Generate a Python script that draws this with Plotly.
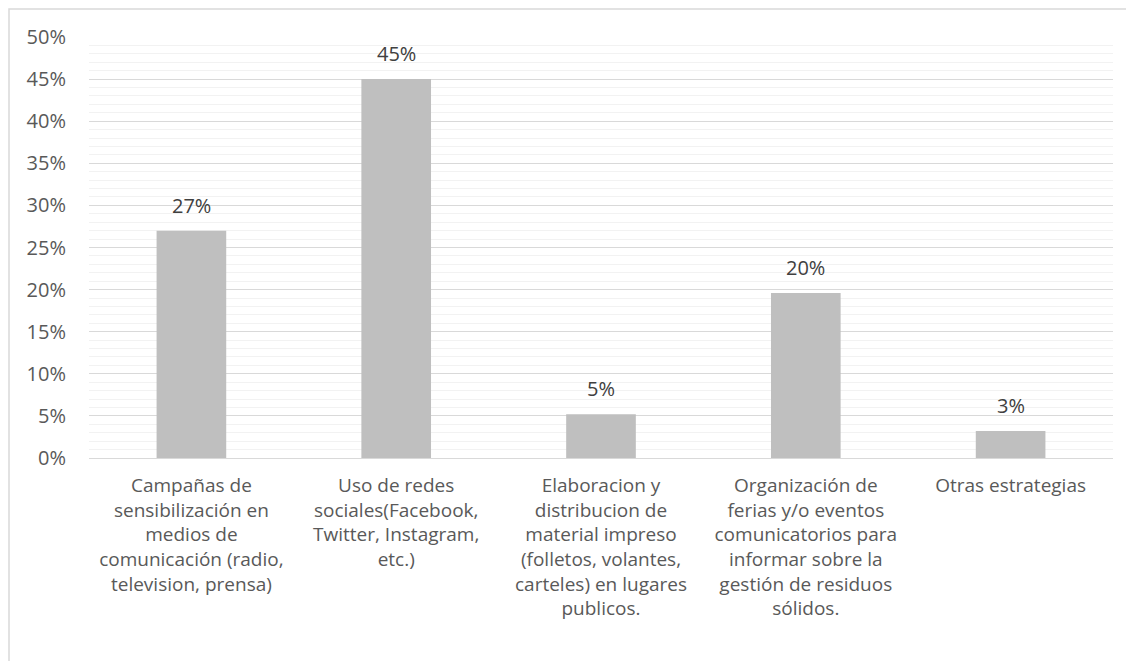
import plotly.graph_objects as go

categories = [
    "Campañas de<br>sensibilización en<br>medios de<br>comunicación (radio,<br>television, prensa)",
    "Uso de redes<br>sociales(Facebook,<br>Twitter, Instagram,<br>etc.)",
    "Elaboracion y<br>distribucion de<br>material impreso<br>(folletos, volantes,<br>carteles) en lugares<br>publicos.",
    "Organización de<br>ferias y/o eventos<br>comunicatorios para<br>informar sobre la<br>gestión de residuos<br>sólidos.",
    "Otras estrategias",
]
values = [0.270, 0.450, 0.052, 0.196, 0.032]

font_family = "'Open Sans', Lato, sans-serif"
text_color = "#595959"

fig = go.Figure(go.Bar(
    x=categories, y=values,
    marker=dict(color="#BFBFBF", line=dict(width=0)),
    width=0.34,
    hoverinfo="skip",
))

for c, v in zip(categories, values):
    fig.add_annotation(x=c, y=v, text=f"{v:.0%}", showarrow=False,
                       yanchor="bottom", yshift=10,
                       font=dict(family=font_family, size=20, color="#404040"))

# page body adds an 8px offset, so the figure is 8px smaller
fig.update_layout(
    width=1126, height=653,
    margin=dict(l=81, r=21, t=29, b=203),
    paper_bgcolor="white", plot_bgcolor="white",
    showlegend=False,
    font=dict(family=font_family, size=19, color=text_color),
)
fig.update_yaxes(
    range=[0, 0.5], dtick=0.05, tickformat=".0%",
    showgrid=True, gridcolor="#D9D9D9", gridwidth=1,
    minor=dict(dtick=0.01, showgrid=True, gridcolor="#F2F2F2", gridwidth=1),
    zeroline=False, showline=False, ticks="",
    ticklabelstandoff=22,
    tickfont=dict(size=20, color=text_color),
)
fig.update_xaxes(
    showline=True, linecolor="#D9D9D9", linewidth=1,
    showgrid=False, ticks="", tickangle=0,
    ticklabelstandoff=10,
    tickfont=dict(size=19, color=text_color),
)
# chart-area border
fig.add_shape(type="rect", xref="paper", yref="paper",
              x0=-80 / 1024, x1=1.05, y0=-0.6, y1=1 + 28 / 421,
              line=dict(color="#D9D9D9", width=1.5), layer="below")

fig.write_html("out.html")
